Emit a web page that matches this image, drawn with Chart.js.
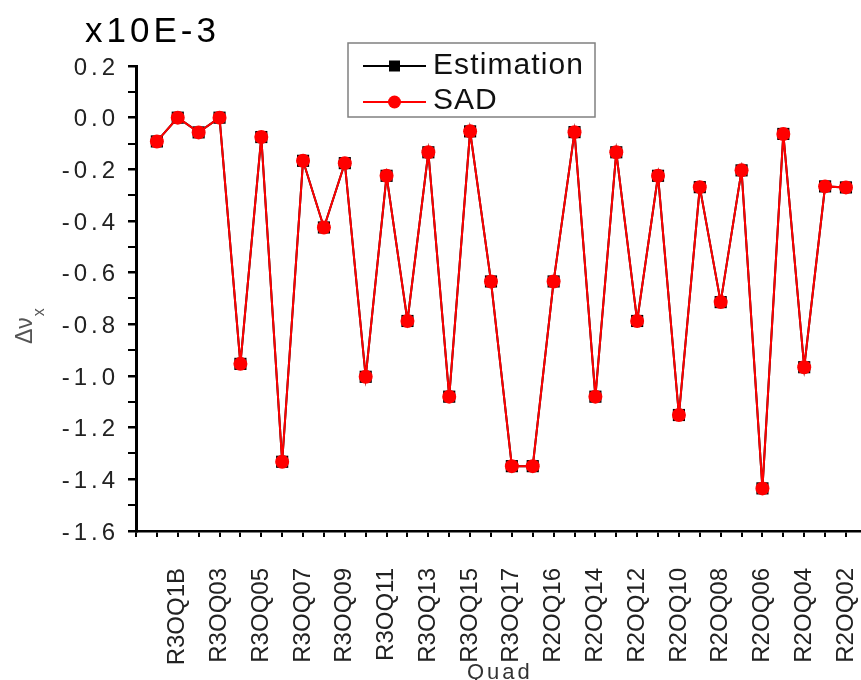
<!DOCTYPE html>
<html>
<head>
<meta charset="utf-8">
<script src="https://cdn.jsdelivr.net/npm/chart.js@4.4.0/dist/chart.umd.min.js"></script>
<style>
  html, body { margin: 0; padding: 0; background: #fff; }
  #wrap { width: 861px; height: 680px; }
</style>
</head>
<body>
<div id="wrap"><canvas id="chart" width="861" height="680"></canvas></div>
<script>
// quadrupole names along the ring, in plotting order
const quads = [
  'R3OQ1A', 'R3OQ1B', 'R3OQ02', 'R3OQ03', 'R3OQ04', 'R3OQ05', 'R3OQ06', 'R3OQ07', 'R3OQ08',
  'R3OQ09', 'R3OQ10', 'R3OQ11', 'R3OQ12', 'R3OQ13', 'R3OQ14', 'R3OQ15', 'R3OQ16', 'R3OQ17',
  'R2OQ17', 'R2OQ16', 'R2OQ15', 'R2OQ14', 'R2OQ13', 'R2OQ12', 'R2OQ11', 'R2OQ10', 'R2OQ09',
  'R2OQ08', 'R2OQ07', 'R2OQ06', 'R2OQ05', 'R2OQ04', 'R2OQ03', 'R2OQ02'
];

// tune shift, units of 1e-3
const estimation = [
  -0.092, 0.000, -0.057, 0.000, -0.953, -0.075, -1.332, -0.167, -0.425, -0.176,
  -1.003, -0.225, -0.787, -0.134, -1.080, -0.053, -0.634, -1.349, -1.349, -0.634,
  -0.056, -1.080, -0.134, -0.787, -0.225, -1.151, -0.269, -0.714, -0.204, -1.435,
  -0.063, -0.966, -0.266, -0.270
];
const sad = [
  -0.092, 0.000, -0.057, 0.000, -0.953, -0.075, -1.332, -0.167, -0.425, -0.176,
  -1.003, -0.225, -0.787, -0.134, -1.080, -0.053, -0.634, -1.349, -1.349, -0.634,
  -0.056, -1.080, -0.134, -0.787, -0.225, -1.151, -0.269, -0.714, -0.204, -1.435,
  -0.063, -0.966, -0.266, -0.270
];

const yTicks = [0.2, 0.0, -0.2, -0.4, -0.6, -0.8, -1.0, -1.2, -1.4, -1.6];

const FONT = '"Liberation Sans", Arial, sans-serif';

function toPoints(values) {
  return values.map((v, i) => ({ x: i + 1, y: v }));
}

// draw text char by char with extra spacing between letters
function spacedText(ctx, str, x, y, spacing, align) {
  const chars = Array.from(str);
  const widths = chars.map(c => ctx.measureText(c).width);
  const total = widths.reduce((a, b) => a + b, 0) + spacing * (chars.length - 1);
  let cx = x;
  if (align === 'right') cx = x - total;
  else if (align === 'center') cx = x - total / 2;
  ctx.textAlign = 'left';
  chars.forEach((c, i) => {
    ctx.fillText(c, cx, y);
    cx += widths[i] + spacing;
  });
}

const decorations = {
  id: 'decorations',
  afterDraw(chart) {
    const ctx = chart.ctx;
    const yScale = chart.scales.y;
    ctx.save();
    ctx.textBaseline = 'alphabetic';

    // y tick labels
    ctx.fillStyle = '#222';
    ctx.font = '24px ' + FONT;
    yTicks.forEach(v => {
      const py = yScale.getPixelForValue(v);
      spacedText(ctx, v.toFixed(1), 115, py + 8.5, 4, 'right');
    });

    // exponent
    ctx.fillStyle = '#000';
    ctx.font = '35px ' + FONT;
    spacedText(ctx, 'x10E-3', 85, 42, 4, 'left');

    // y title, rotated
    ctx.save();
    ctx.translate(32, 344);
    ctx.rotate(-Math.PI / 2);
    ctx.fillStyle = '#555';
    ctx.font = '23px ' + FONT;
    ctx.textAlign = 'left';
    ctx.fillText('Δν', 0, 0);
    const w = ctx.measureText('Δν').width;
    ctx.font = '16px ' + FONT;
    ctx.fillText('x', w + 1, 12);
    ctx.restore();

    // x title
    ctx.fillStyle = '#333';
    ctx.font = '22px ' + FONT;
    spacedText(ctx, 'Quad', 467, 679, 3, 'left');

    // legend
    ctx.fillStyle = '#fff';
    ctx.fillRect(348, 43, 247, 74);
    ctx.strokeStyle = '#808080';
    ctx.lineWidth = 1.5;
    ctx.strokeRect(348, 43, 247, 74);

    ctx.lineWidth = 2;
    ctx.strokeStyle = '#000';
    ctx.beginPath(); ctx.moveTo(363, 66); ctx.lineTo(426, 66); ctx.stroke();
    ctx.fillStyle = '#000';
    ctx.fillRect(389, 60.5, 11, 11);

    ctx.strokeStyle = '#ff0000';
    ctx.beginPath(); ctx.moveTo(363, 102); ctx.lineTo(426, 102); ctx.stroke();
    ctx.fillStyle = '#ff0000';
    ctx.beginPath(); ctx.arc(394.5, 102, 6.5, 0, Math.PI * 2); ctx.fill();

    ctx.fillStyle = '#111';
    ctx.font = '30px ' + FONT;
    spacedText(ctx, 'Estimation', 433, 74, 1.1, 'left');
    spacedText(ctx, 'SAD', 433, 109, 1, 'left');

    ctx.restore();
  }
};

const ctx = document.getElementById('chart').getContext('2d');
const chart = new Chart(ctx, {
  type: 'line',
  data: {
    datasets: [
      {
        label: 'Estimation',
        data: toPoints(estimation),
        borderColor: '#000',
        backgroundColor: '#000',
        borderWidth: 2,
        pointStyle: 'rect',
        pointRadius: 8.6,
        pointBorderWidth: 0,
        tension: 0,
        order: 1,
        clip: false
      },
      {
        label: 'SAD',
        data: toPoints(sad),
        borderColor: '#ff0000',
        backgroundColor: '#ff0000',
        borderWidth: 2,
        pointStyle: 'circle',
        pointRadius: 7,
        pointBorderWidth: 0,
        tension: 0,
        order: 0,
        clip: false
      }
    ]
  },
  options: {
    responsive: false,
    animation: false,
    events: [],
    layout: {
      autoPadding: false,
      padding: { top: 66, left: 0, right: 0, bottom: 0 }
    },
    plugins: {
      legend: { display: false },
      tooltip: { enabled: false }
    },
    scales: {
      x: {
        type: 'linear',
        min: 0,
        max: 34.72,
        afterFit: s => {
          s.height = 149;
          s.paddingLeft = 0;
          s.paddingRight = 0;
        },
        border: { color: '#000', width: 2.5 },
        grid: {
          drawOnChartArea: false,
          drawTicks: true,
          tickLength: 6,
          color: '#000',
          lineWidth: 2
        },
        ticks: {
          stepSize: 1,
          autoSkip: false,
          includeBounds: false,
          maxRotation: 90,
          minRotation: 90,
          padding: 31,
          color: '#222',
          font: { family: FONT, size: 24 },
          callback: v => (Number.isInteger(v) && v >= 1 && v <= quads.length && v % 2 === 0) ? quads[v - 1] : ''
        }
      },
      y: {
        type: 'linear',
        min: -1.6,
        max: 0.2,
        afterFit: s => {
          s.width = 136;
          s.paddingTop = 0;
          s.paddingBottom = 0;
        },
        border: { color: '#000', width: 3 },
        grid: {
          drawOnChartArea: false,
          drawTicks: true,
          tickLength: 8,
          color: '#000',
          lineWidth: c => {
            const v = c.tick ? c.tick.value : 0;
            return Math.abs(v * 5 - Math.round(v * 5)) < 1e-6 ? 2.5 : 2;
          }
        },
        ticks: { stepSize: 0.1, display: false }
      }
    }
  },
  plugins: [decorations]
});
</script>
</body>
</html>
